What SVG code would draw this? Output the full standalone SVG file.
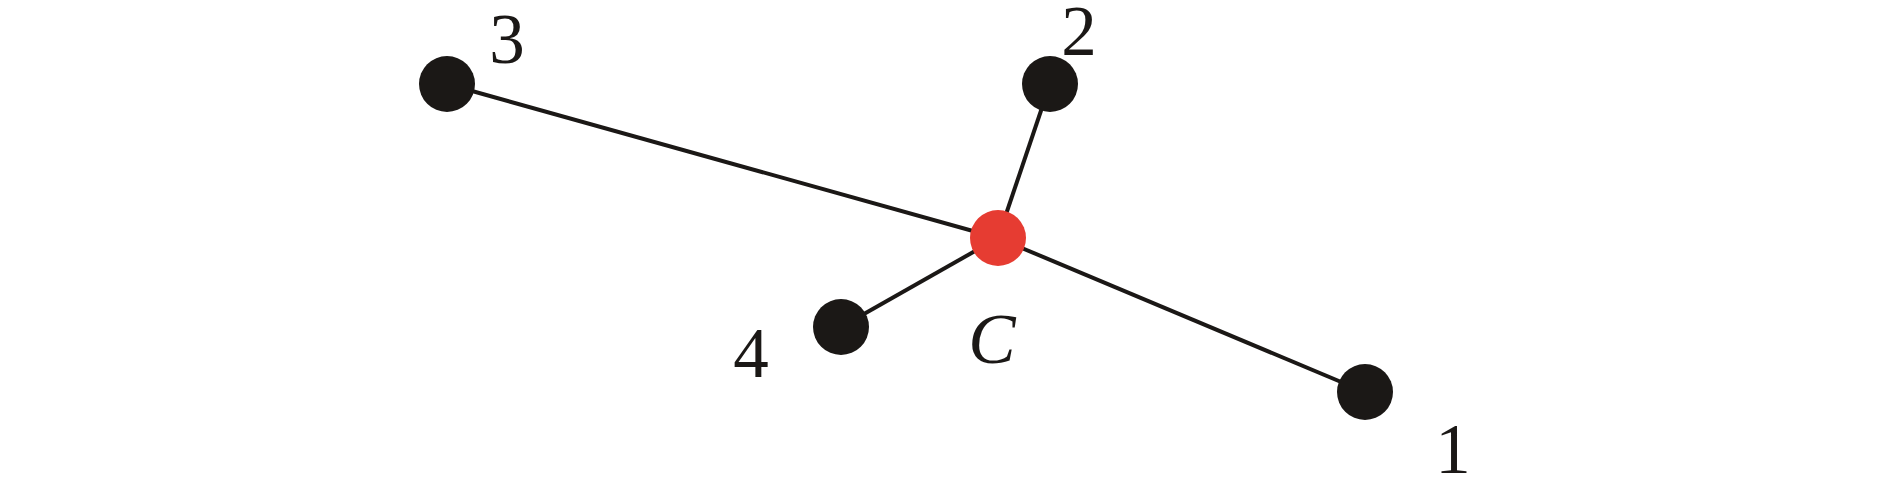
<svg xmlns="http://www.w3.org/2000/svg" width="1890" height="494" viewBox="0 0 1890 494">
<style>
.edge{stroke:#1b1816;stroke-width:4;fill:none}
.node{fill:#1b1816}
.center{fill:#e63c32}
.lbl{fill:#1b1816;text-anchor:middle}
</style>
<rect width="1890" height="494" fill="#fff"/>
<g id="connectors">
<line class="edge" x1="998" y1="238" x2="447" y2="84"/>
<line class="edge" x1="998" y1="238" x2="1050" y2="84"/>
<line class="edge" x1="998" y1="238" x2="841" y2="327"/>
<line class="edge" x1="998" y1="238" x2="1365" y2="392"/>
</g>
<g id="node3"><circle class="node" cx="447" cy="84" r="28"/><text class="lbl" x="507" y="63" font-family="'Liberation Serif', 'Times New Roman', serif" font-size="71">3</text></g>
<g id="node2"><circle class="node" cx="1050" cy="84" r="28"/><text class="lbl" x="1079" y="55" font-family="'Liberation Serif', 'Times New Roman', serif" font-size="71">2</text></g>
<g id="node4"><circle class="node" cx="841" cy="327" r="28"/><text class="lbl" x="751" y="377" font-family="'Liberation Serif', 'Times New Roman', serif" font-size="71">4</text></g>
<g id="node1"><circle class="node" cx="1365" cy="392" r="28"/><text class="lbl" x="1453" y="473" font-family="'Liberation Serif', 'Times New Roman', serif" font-size="71">1</text></g>
<g id="nodeC"><circle class="center" cx="998" cy="238" r="28"/><text class="lbl" x="992" y="363" font-family="'Liberation Serif', 'Times New Roman', serif" font-size="71" font-style="italic">C</text></g>
</svg>
